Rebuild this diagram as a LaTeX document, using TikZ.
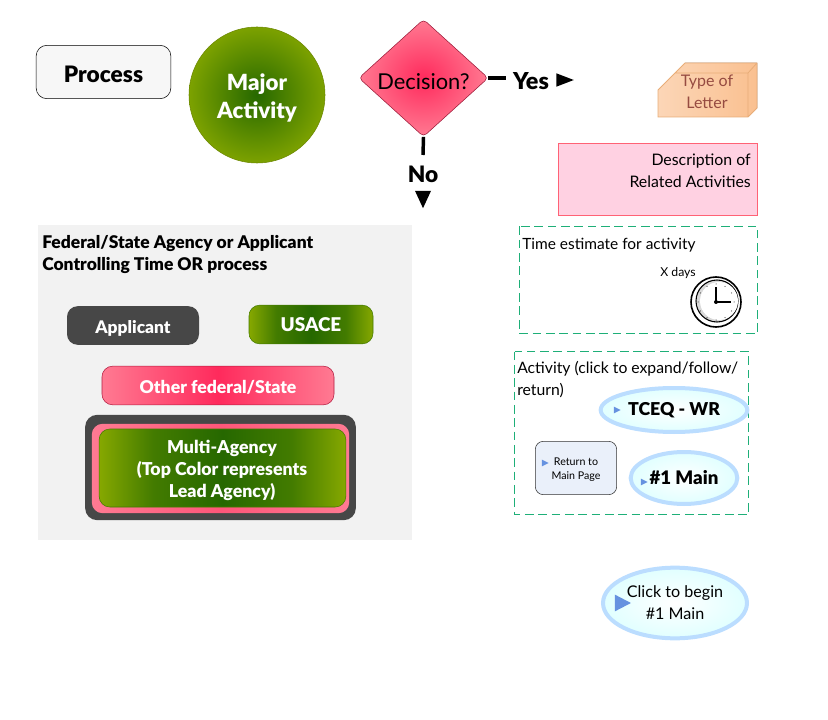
\documentclass[tikz,border=0pt]{standalone}
\usepackage{fontspec}
\setmainfont{Lato}[BoldFont={Lato Black}]
\usetikzlibrary{shapes.geometric}
\definecolor{Dgreen}{RGB}{38,104,0}
\definecolor{Lgreen}{RGB}{134,168,0}
\definecolor{Dred}{RGB}{255,42,92}
\definecolor{Lred}{RGB}{255,122,146}
\definecolor{Slate}{RGB}{71,71,71}
\definecolor{Panel}{RGB}{242,242,242}
\definecolor{Dash}{RGB}{30,175,120}
\definecolor{Halo}{RGB}{187,221,255}
\definecolor{Ptr}{RGB}{102,146,224}
\definecolor{Blush}{RGB}{255,209,226}
\definecolor{Peach}{RGB}{250,192,144}
\definecolor{Rust}{RGB}{150,75,65}
\definecolor{Mist}{RGB}{234,240,250}
\pgfdeclarehorizontalshading{greenband}{100bp}{color(0bp)=(Lgreen); color(25bp)=(Lgreen);
color(36bp)=(Dgreen!70!Lgreen); color(50bp)=(Dgreen); color(64bp)=(Dgreen!70!Lgreen);
color(75bp)=(Lgreen); color(100bp)=(Lgreen)}
\tikzstyle{greenbox} = [rounded corners=8pt, draw=Dgreen!70!Lgreen, shading=greenband,
text=white, font=\fontsize{13.3}{16.5}\selectfont\bfseries, align=center, inner sep=0pt]
\tikzstyle{redbox} = [rounded corners=8pt, draw=Dred!70!black,
left color=Lred, right color=Lred, middle color=Dred,
text=white, font=\fontsize{13.2}{16.5}\selectfont\bfseries, align=center, inner sep=0pt]
\tikzstyle{halo} = [ellipse, line width=3pt, draw=Halo, inner color=white, outer color=cyan!12,
align=center, inner sep=0pt]
\tikzstyle{dashbox} = [draw=Dash, dash pattern=on 6.5pt off 3.5pt, line width=0.75pt]
\tikzstyle{tip} = [isosceles triangle, isosceles triangle apex angle=60, isosceles triangle stretches,
fill=black, inner sep=0pt]
\tikzstyle{ptr} = [tip, fill=Ptr]
\tikzstyle{note} = [inner sep=0pt, align=left, anchor=west]
\begin{document}
\begin{tikzpicture}[x=0.75pt, y=-0.75pt]
    \useasboundingbox (0,0) rectangle (828,720);

    \node[draw=black, fill=Panel!60!white, rounded corners=8pt, minimum width=101pt, minimum height=40pt,
        text height=15.5pt, text depth=0pt, font=\fontsize{17}{18}\selectfont\bfseries] (process) at (103.5,72) {Process};
    \node[circle, draw=Lgreen!80!black, inner color=Dgreen, outer color=Lgreen!90!Dgreen, minimum size=102pt,
        inner sep=0pt] (major) at (257,95) {};
    \node[inner sep=0pt, text=white, align=center, font=\fontsize{16.7}{21}\selectfont\bfseries]
        (majortext) at (257,98) {Major\\Activity};
    \node[diamond, draw=Dred!60!black, inner color=Dred, outer color=Lred, minimum width=97pt, minimum height=88pt,
        inner sep=0pt, rounded corners=3pt, text height=18pt, text depth=0pt, font=\fontsize{16.4}{18}\selectfont]
        (decision) at (423.5,78) {Decision?};

    \node[font=\fontsize{17.5}{18}\selectfont\bfseries, inner sep=0pt] (yes) at (531,81) {Yes};
    \node[font=\fontsize{17}{18}\selectfont\bfseries, inner sep=0pt] (no) at (423,174) {No};
    \node[tip, minimum height=13pt, minimum width=10pt] (yestip) at (561,80) {};
    \node[tip, minimum height=13pt, minimum width=12pt, shape border rotate=270] (notip) at (423,196) {};
    \draw[line width=2.6pt, shorten >=5pt] (decision.east) -- (decision.east -| yes.west);
    \draw[line width=2.6pt] (decision.south) -- (423,155);

    % letter block
    \fill[left color=Peach!65!white, right color=Peach]
        (658,90) -- (685,63) -- (757,63) -- (757,108) -- (748,117) -- (658,117) -- cycle;
    \draw[draw=Peach!70!brown, line width=0.6pt]
        (658,90) -- (685,63) -- (757,63) -- (757,108) -- (748,117) -- (658,117) -- cycle
        (675,73) -- (748,73) -- (748,117) (748,73) -- (757,63);
    \node[text=Rust, align=center, inner sep=0pt, font=\fontsize{12}{16.5}\selectfont]
        (letter) at (707,92) {Type of\\Letter};

    \node[draw=Lred!80!red, fill=Blush, minimum width=149pt, minimum height=54pt,
        inner sep=0pt] (related) at (657.5,179) {};
    \node[inner sep=0pt, align=right, anchor=north east, font=\fontsize{11.9}{16.5}\selectfont]
        (relatedtext) at (751,154) {Description of\\Related Activities};

    % time estimate
    \draw[dashbox] (519.5,226.5) rectangle (757.5,333.5);
    \node[note, font=\fontsize{11.6}{16}\selectfont] (timetext) at (522,245) {Time estimate for activity};
    \node[inner sep=0pt, font=\fontsize{9.2}{10}\selectfont] (xdays) at (678,273) {X days};
    \draw[line width=1.2pt, fill=white] (716,302) circle (25);
    \draw[line width=0.8pt, fill=black!15] (717,301) circle (21);
    \draw[fill=white, draw=none] (719,301) circle (19);
    \foreach \a in {0,30,...,330} \fill (716,302) ++(\a:18) circle (0.5);
    \draw[line width=0.9pt] (716,302) -- (716,287) (716,302) -- (731,302);
    \fill (716,302) circle (2);

    % activity
    \draw[dashbox] (514.5,351.5) rectangle (748.5,514.5);
    \node[note, font=\fontsize{11.8}{16.5}\selectfont, anchor=north west] (acttext) at (517,361)
        {Activity (click to expand/follow/\\return)};
    \node[halo, minimum width=110pt, minimum height=33pt, font=\fontsize{13.3}{18}\selectfont\bfseries]
        (tceq) at (674,410) {\makebox[0pt]{TCEQ - WR}};
    \node[halo, minimum width=80pt, minimum height=39pt, font=\fontsize{14}{18}\selectfont\bfseries]
        (mainlink) at (684,478) {\makebox[0pt]{\#1 Main}};
    \node[draw=black!80, fill=Mist, rounded corners=6pt, minimum width=61pt, minimum height=40pt, inner sep=0pt]
        (returnbox) at (576,468) {};
    \node[inner sep=0pt, align=center, font=\fontsize{8}{10.5}\selectfont] (returntext) at (576,470) {Return to\\Main Page};
    \node[ptr, minimum height=5pt, minimum width=5pt] at (616,410) {};
    \node[ptr, minimum height=5pt, minimum width=5pt] at (643,482) {};
    \node[ptr, minimum height=5pt, minimum width=5pt] at (544,463) {};

    \node[halo, minimum width=108pt, minimum height=53pt, font=\fontsize{12.1}{16.5}\selectfont]
        (begin) at (675,603) {\makebox[0pt]{Click to begin}\\\makebox[0pt]{\#1 Main}};
    \node[ptr, minimum height=12pt, minimum width=12.5pt] at (620,603) {};

    % agencies
    \fill[Panel] (38,225) rectangle (412,540);
    \node[note, anchor=north west, font=\fontsize{13.1}{16.5}\selectfont\bfseries] (paneltext) at (42,235)
        {Federal/State Agency or Applicant\\Controlling Time OR process};
    \node[fill=Slate, rounded corners=8pt, text=white, minimum width=99pt, minimum height=29pt, inner sep=0pt,
        text height=12.5pt, text depth=0pt, font=\fontsize{13}{18}\selectfont\bfseries] (applicant) at (133,325.5) {Applicant};
    \node[greenbox, minimum width=93pt, minimum height=29pt, font=\fontsize{14.2}{18}\selectfont\bfseries] (usace) at (311,324.5) {USACE};
    \node[redbox, minimum width=174pt, minimum height=29pt, text height=11.5pt, text depth=0pt] (other) at (218,385.5) {Other federal/State};
    \node[fill=Slate, rounded corners=9pt, minimum width=203pt, minimum height=79pt, inner sep=0pt] (multiout) at (220.5,467.5) {};
    \node[redbox, draw=none, middle color=Dred!45!Lred, minimum width=193pt, minimum height=67pt] (multimid) at (220.5,468.5) {};
    \node[greenbox, minimum width=185pt, minimum height=58.5pt] (multi) at (222.5,468) {};
    \node[inner sep=0pt, align=center, text=white, font=\fontsize{13.3}{16.5}\selectfont\bfseries] (multitext) at (222,470)
        {Multi-Agency\\(Top Color represents\\Lead Agency)};
\end{tikzpicture}
\end{document}
